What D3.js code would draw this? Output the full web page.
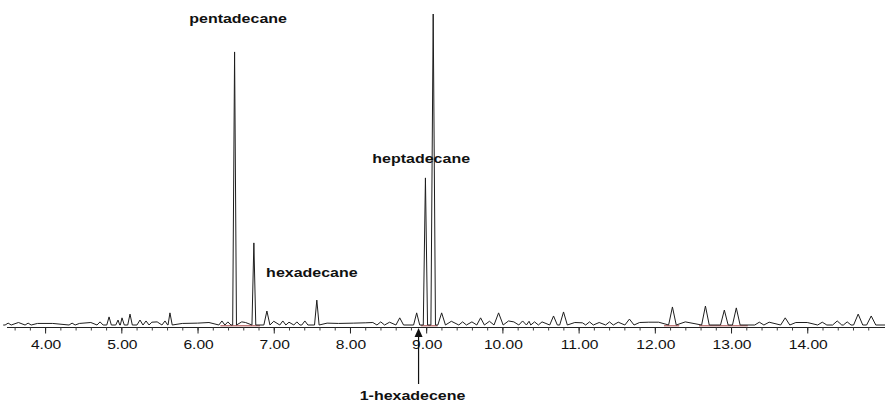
<!DOCTYPE html>
<html>
<head>
<meta charset="utf-8">
<script src="https://cdn.jsdelivr.net/npm/d3@7"></script>
<style>
  body { margin: 0; background: #fff; }
  svg { display: block; }
</style>
</head>
<body>
<svg id="svg" width="885" height="404"></svg>
<script>
// retention time (min), relative abundance (% of tallest), half base width (min)
let peakTimes = [3.515, 3.777, 4.354, 4.721, 4.839, 4.957, 5.009, 5.114, 5.245, 5.324,
  5.573, 5.638, 6.320, 6.398, 6.486, 6.739, 6.910, 7.119, 7.303, 7.408,
  7.565, 8.404, 8.653, 8.875, 8.990, 9.092, 9.203, 9.478, 9.714, 9.950,
  10.265, 10.422, 10.671, 10.802, 11.143, 11.405, 11.667, 12.231, 12.664, 12.912,
  13.069, 13.371, 13.711, 14.197, 14.393, 14.524, 14.668, 14.839];
let peakHeights = [0.6, 0.6, 0.6, 1.0, 2.6, 1.6, 2.3, 3.5, 1.6, 1.3,
  1.3, 3.9, 1.3, 1.0, 87.8, 26.4, 4.5, 1.3, 1.0, 1.3,
  8.0, 1.0, 2.3, 3.9, 47.3, 100, 3.9, 1.0, 2.3, 3.9,
  1.3, 1.0, 2.9, 4.2, 1.0, 1.0, 1.9, 5.8, 6.1, 4.8,
  5.5, 0.9, 2.3, 0.9, 1.3, 1.0, 3.5, 2.9];
let peakWidths = [0.04, 0.04, 0.04, 0.04, 0.03, 0.03, 0.03, 0.03, 0.04, 0.04,
  0.04, 0.03, 0.04, 0.04, 0.025, 0.025, 0.04, 0.04, 0.04, 0.04,
  0.03, 0.05, 0.05, 0.04, 0.028, 0.03, 0.05, 0.05, 0.05, 0.06,
  0.05, 0.05, 0.05, 0.05, 0.05, 0.05, 0.06, 0.05, 0.05, 0.05,
  0.05, 0.06, 0.06, 0.06, 0.06, 0.05, 0.06, 0.06];

// small baseline wiggles between the peaks
let noiseTimes = [3.65, 3.90, 4.10, 4.45, 4.60, 5.40, 5.47, 5.80, 6.00, 6.15,
  6.58, 6.63, 7.00, 7.20, 7.70, 7.85, 8.05, 8.20, 8.30, 8.52,
  9.33, 9.60, 9.83, 10.08, 10.15, 10.35, 10.52, 10.95, 11.05, 11.27,
  11.52, 11.80, 11.92, 12.05, 12.40, 13.50, 13.85, 14.00];
let noiseHeights = [0.8, 0.5, 0.5, 0.5, 0.8, 0.9, 1.0, 0.5, 0.6, 0.8,
  1.0, 0.8, 1.2, 0.9, 0.6, 0.5, 0.6, 0.7, 0.8, 0.9,
  1.2, 1.0, 1.2, 1.3, 1.0, 1.2, 1.0, 0.8, 0.7, 0.8,
  0.9, 0.8, 0.9, 0.9, 1.0, 0.9, 0.8, 0.8];

// integration baselines (red)
let baseStarts = [6.30, 8.93, 12.12, 12.58];
let baseEnds = [6.82, 9.15, 12.32, 13.22];

let majorTicks = [4, 5, 6, 7, 8, 9, 10, 11, 12, 13, 14];
let tickLabels = ["4.00", "5.00", "6.00", "7.00", "8.00", "9.00", "10.00", "11.00", "12.00", "13.00", "14.00"];

let compoundNames = ["pentadecane", "hexadecane", "heptadecane", "1-hexadecene"];
let compoundTimes = [6.486, 6.739, 9.092, 8.90];

let svg = d3.select('#svg');
let x = d3.scaleLinear().domain([3.5, 15.02]).range([7, 885]);
let y = d3.scaleLinear().domain([0, 100]).range([325, 14]);
let axisY = 327.5;

// trace: baseline - apex - baseline for every peak
let pts = [];
for (let i = 0; i < peakTimes.length; i++) {
    pts.push([peakTimes[i] - peakWidths[i], 0]);
    pts.push([peakTimes[i], peakHeights[i]]);
    pts.push([peakTimes[i] + peakWidths[i], 0]);
}
for (let i = 0; i < noiseTimes.length; i++) {
    pts.push([noiseTimes[i], noiseHeights[i]]);
}
pts.sort((a, b) => a[0] - b[0]);
pts.unshift([3.45, 0]);
pts.push([15.1, 0]);

for (let i = 0; i < baseStarts.length; i++) {
    svg.append("line").attr("x1", x(baseStarts[i])).attr("x2", x(baseEnds[i]))
        .attr("y1", y(0) + 0.8).attr("y2", y(0) + 0.8)
        .attr("stroke", "#9b2b2b").attr("stroke-width", 0.9);
}

let line = d3.line().x(d => x(d[0])).y(d => y(d[1]));
svg.append("path").datum(pts).attr("d", line)
    .attr("fill", "none").attr("stroke", "#1e1e1e").attr("stroke-width", 1)
    .attr("stroke-linejoin", "round");

// x axis
let axis = d3.axisBottom(x)
    .tickValues(d3.range(3.6, 15.0, 0.2).map(d => Math.round(d * 10) / 10))
    .tickSize(3).tickFormat("");
let g = svg.append("g").attr("transform", "translate(0," + axisY + ")").call(axis);
g.select(".domain").attr("stroke", "#222").attr("d", "M7,0H885");
g.selectAll(".tick line").attr("stroke", "#444");

let major = svg.append("g").attr("transform", "translate(0," + axisY + ")")
    .call(d3.axisBottom(x).tickValues(majorTicks).tickSize(6).tickFormat(""));
major.select(".domain").remove();
major.selectAll(".tick line").attr("stroke", "#222");

svg.selectAll(".tlabel").data(majorTicks).enter().append("text")
    .attr("class", "tlabel")
    .attr("transform", (d, i) => "translate(" + (x(d) + 1) + ",349) scale(1.2,1)")
    .attr("text-anchor", "middle")
    .style("font-family", "'Liberation Sans', Arial, sans-serif")
    .style("font-size", "13px").style("fill", "#111")
    .text((d, i) => tickLabels[i]);

// compound labels
let labelDx = [3.5, 58, -12, -6];
let labelY = [23, 277, 163, 400];
for (let i = 0; i < compoundNames.length; i++) {
    svg.append("text")
        .attr("transform", "translate(" + (x(compoundTimes[i]) + labelDx[i]) + "," + labelY[i] + ") scale(1.25,1)")
        .attr("text-anchor", "middle")
        .style("font-family", "'Liberation Sans', Arial, sans-serif")
        .style("font-size", "12.8px").style("font-weight", 700).style("fill", "#111")
        .text(compoundNames[i]);
}

// arrow for 1-hexadecene
let ax = x(compoundTimes[3]);
svg.append("line").attr("x1", ax).attr("x2", ax).attr("y1", 335).attr("y2", 384)
    .attr("stroke", "#111").attr("stroke-width", 1.2);
svg.append("path").attr("d", "M" + ax + ",328L" + (ax - 4) + ",337L" + (ax + 4) + ",337Z")
    .attr("fill", "#111");
</script>
</body>
</html>
